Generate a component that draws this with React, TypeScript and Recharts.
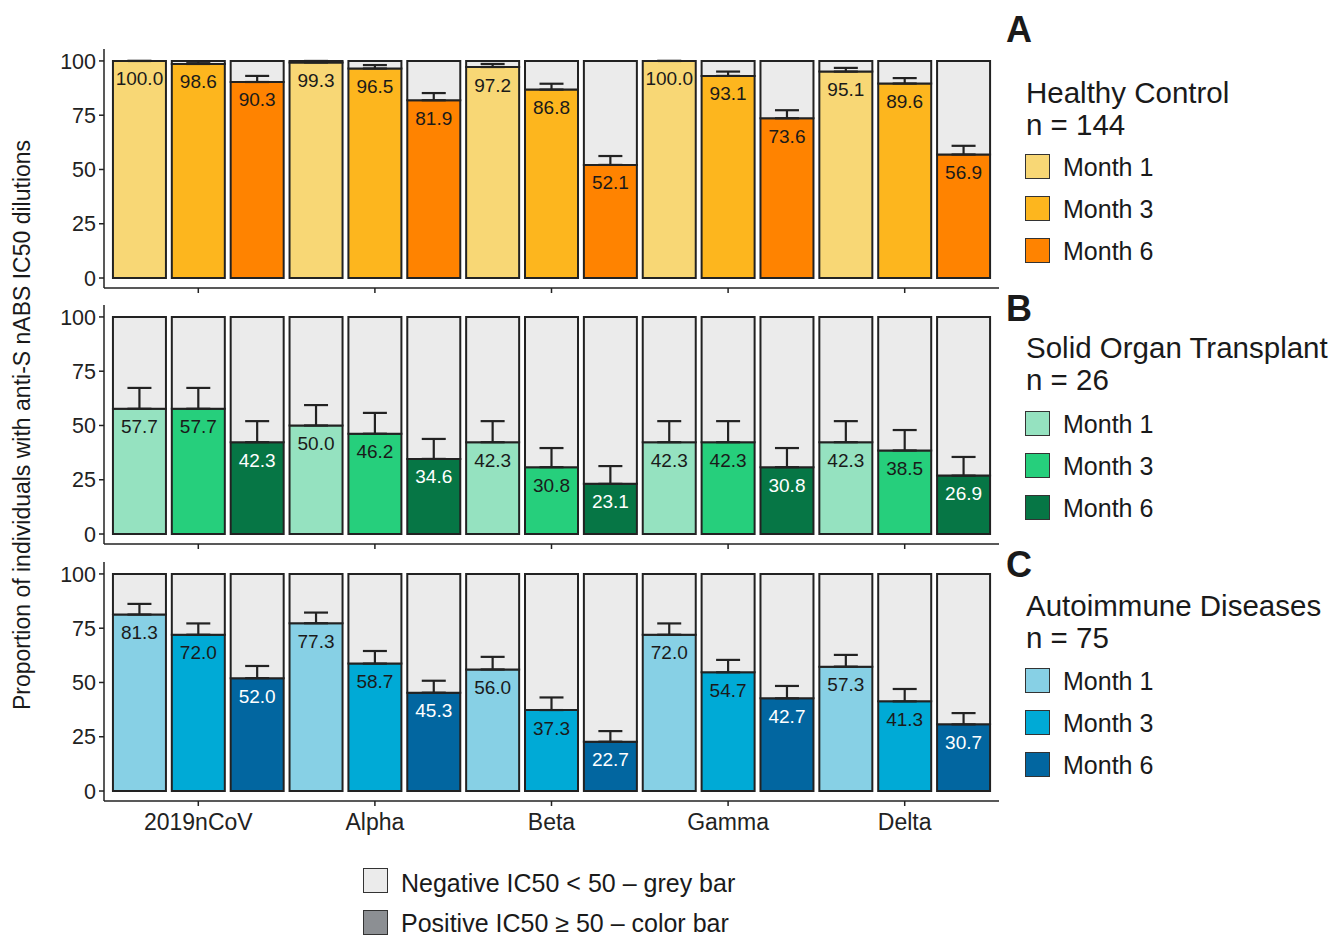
import React from "react";
import {
  Bar,
  Cell,
  ComposedChart,
  ErrorBar,
  LabelList,
  Line,
  XAxis,
  YAxis,
} from "recharts";

const VARIANTS = ["2019nCoV", "Alpha", "Beta", "Gamma", "Delta"];
const MONTHS = ["Month 1", "Month 3", "Month 6"];

// percent positive, ordered variant by variant, month 1/3/6
const HC_VALUES = [100.0, 98.6, 90.3, 99.3, 96.5, 81.9, 97.2, 86.8, 52.1, 100.0, 93.1, 73.6, 95.1, 89.6, 56.9];
const HC_ERR = [0, 1.0, 2.8, 0.7, 1.6, 3.3, 1.4, 2.7, 4.1, 0, 2.0, 3.7, 1.7, 2.5, 4.0];

const SOT_VALUES = [57.7, 57.7, 42.3, 50.0, 46.2, 34.6, 42.3, 30.8, 23.1, 42.3, 42.3, 30.8, 42.3, 38.5, 26.9];
const SOT_ERR = [9.6, 9.6, 9.7, 9.4, 9.6, 9.2, 9.7, 8.8, 8.2, 9.7, 9.7, 8.8, 9.7, 9.4, 8.6];

const AID_VALUES = [81.3, 72.0, 52.0, 77.3, 58.7, 45.3, 56.0, 37.3, 22.7, 72.0, 54.7, 42.7, 57.3, 41.3, 30.7];
const AID_ERR = [4.9, 5.2, 5.6, 4.9, 5.8, 5.5, 5.8, 5.8, 4.9, 5.2, 5.7, 5.7, 5.4, 5.7, 5.2];

const HC_COLORS = ["#F8D775", "#FDB61E", "#FF8300"];
const SOT_COLORS = ["#95E2C0", "#26CF7C", "#067645"];
const AID_COLORS = ["#87D0E5", "#00AAD6", "#0266A0"];

const HC_TEXT = ["#1a1a1a", "#1a1a1a", "#1a1a1a"];
const SOT_TEXT = ["#1a1a1a", "#1a1a1a", "#ffffff"];
const AID_TEXT = ["#1a1a1a", "#1a1a1a", "#ffffff"];

const GREY = "#EBEBEB";
const INK = "#222";
const FONT = "'Liberation Sans', Arial, sans-serif";

function buildRows(values: number[], errs: number[]) {
  return values.map((v, i) => ({
    key: `${VARIANTS[Math.floor(i / 3)]}-${i % 3}`,
    variant: VARIANTS[Math.floor(i / 3)],
    month: i % 3,
    value: v,
    rest: 100 - v,
    err: [0, errs[i]],
  }));
}

const MID_KEYS = VARIANTS.map((v) => `${v}-1`);

function Panel({
  values,
  errs,
  colors,
  textColors,
  showLabels,
}: {
  values: number[];
  errs: number[];
  colors: string[];
  textColors: string[];
  showLabels: boolean;
}) {
  const rows = buildRows(values, errs);
  const renderLabel = (p: any) => {
    const { x, y, width, value, index } = p;
    const m = rows[index].month;
    return (
      <text
        x={Number(x) + Number(width) / 2}
        y={Number(y) + 18}
        textAnchor="middle"
        dominantBaseline="central"
        fontSize={19}
        fontFamily={FONT}
        fill={textColors[m]}
      >
        {Number(value).toFixed(1)}
      </text>
    );
  };
  return (
    <ComposedChart
      width={1000}
      height={279}
      data={rows}
      margin={{ top: 0, right: 1, bottom: 0, left: 0 }}
      barCategoryGap="5%"
    >
      <XAxis
        dataKey="key"
        ticks={MID_KEYS}
        interval={0}
        padding={{ left: 6, right: 6 }}
        height={40}
        tickSize={5}
        tickMargin={8}
        axisLine={{ stroke: INK, strokeWidth: 1.5 }}
        tickLine={{ stroke: INK, strokeWidth: 1.5 }}
        tick={{ fontSize: 23, fontFamily: FONT, fill: "#222" }}
        tickFormatter={(k: string) => (showLabels ? k.split("-")[0] : "")}
      />
      <YAxis
        width={104}
        type="number"
        domain={[-4.6, 105.5]}
        allowDataOverflow
        ticks={[0, 25, 50, 75, 100]}
        tickSize={5}
        tickMargin={3}
        axisLine={{ stroke: INK, strokeWidth: 1.5 }}
        tickLine={{ stroke: INK, strokeWidth: 1.5 }}
        tick={{ fontSize: 21.5, fontFamily: FONT, fill: "#222" }}
      />
      <Bar dataKey="value" stackId="s" stroke={INK} strokeWidth={2} isAnimationActive={false}>
        {rows.map((r) => (
          <Cell key={r.key} fill={colors[r.month]} />
        ))}
        <LabelList dataKey="value" content={renderLabel} />
      </Bar>
      <Bar dataKey="rest" stackId="s" fill={GREY} stroke={INK} strokeWidth={2} isAnimationActive={false} />
      <Line
        dataKey="value"
        stroke="none"
        dot={false}
        activeDot={false}
        legendType="none"
        isAnimationActive={false}
      >
        <ErrorBar dataKey="err" width={12} stroke={INK} strokeWidth={2.2} direction="y" />
      </Line>
    </ComposedChart>
  );
}

function Swatch({ fill }: { fill: string }) {
  return (
    <div
      style={{
        width: 23,
        height: 23,
        background: fill,
        border: "1.5px solid #333",
        boxSizing: "content-box",
      }}
    />
  );
}

function TextAt({
  x,
  cy,
  size,
  bold,
  lh = 1.2,
  children,
}: {
  x: number;
  cy: number;
  size: number;
  bold?: boolean;
  lh?: number;
  children: React.ReactNode;
}) {
  const h = size * lh;
  return (
    <div
      style={{
        position: "absolute",
        left: x,
        top: cy - h / 2,
        height: h,
        lineHeight: `${h}px`,
        fontSize: size,
        fontWeight: bold ? 700 : 400,
        color: "#1a1a1a",
        whiteSpace: "nowrap",
      }}
    >
      {children}
    </div>
  );
}

function GroupLegend({
  letter,
  letterY,
  title,
  titleY,
  n,
  colors,
  rowY,
}: {
  letter: string;
  letterY: number;
  title: string;
  titleY: number;
  n: string;
  colors: string[];
  rowY: number;
}) {
  return (
    <>
      <TextAt x={1006} cy={letterY} size={36} bold>
        {letter}
      </TextAt>
      <TextAt x={1026} cy={titleY} size={29.5}>
        {title}
      </TextAt>
      <TextAt x={1026} cy={titleY + 32} size={29.5}>
        {n}
      </TextAt>
      {MONTHS.map((m, i) => (
        <React.Fragment key={m}>
          <div style={{ position: "absolute", left: 1025, top: rowY + i * 42 - 13 }}>
            <Swatch fill={colors[i]} />
          </div>
          <TextAt x={1063} cy={rowY + i * 42} size={25}>
            {m}
          </TextAt>
        </React.Fragment>
      ))}
    </>
  );
}

export default function App() {
  return (
    <div
      style={{
        position: "relative",
        width: 1333,
        height: 937,
        overflow: "hidden",
        background: "#fff",
        fontFamily: FONT,
      }}
    >
      <style>{`body{margin:0}`}</style>
      <div style={{ position: "absolute", left: 0, top: 49 }}>
        <Panel values={HC_VALUES} errs={HC_ERR} colors={HC_COLORS} textColors={HC_TEXT} showLabels={false} />
      </div>
      <div style={{ position: "absolute", left: 0, top: 305 }}>
        <Panel values={SOT_VALUES} errs={SOT_ERR} colors={SOT_COLORS} textColors={SOT_TEXT} showLabels={false} />
      </div>
      <div style={{ position: "absolute", left: 0, top: 562 }}>
        <Panel values={AID_VALUES} errs={AID_ERR} colors={AID_COLORS} textColors={AID_TEXT} showLabels />
      </div>

      <div
        style={{
          position: "absolute",
          left: 22,
          top: 425,
          transform: "translate(-50%, -50%) rotate(-90deg)",
          fontSize: 23,
          color: "#1a1a1a",
          whiteSpace: "nowrap",
        }}
      >
        Proportion of individuals with anti-S nABS IC50 dilutions
      </div>

      <GroupLegend letter="A" letterY={30} title="Healthy Control" titleY={93} n="n = 144" colors={HC_COLORS} rowY={167} />
      <GroupLegend letter="B" letterY={309} title="Solid Organ Transplant" titleY={348} n="n = 26" colors={SOT_COLORS} rowY={424} />
      <GroupLegend letter="C" letterY={565} title="Autoimmune Diseases" titleY={606} n="n = 75" colors={AID_COLORS} rowY={681} />

      <div style={{ position: "absolute", left: 363, top: 868 }}>
        <Swatch fill={GREY} />
      </div>
      <TextAt x={401} cy={883} size={25} lh={1}>
        Negative IC50 &lt; 50 – grey bar
      </TextAt>
      <div style={{ position: "absolute", left: 363, top: 910 }}>
        <Swatch fill="#8C8F93" />
      </div>
      <TextAt x={401} cy={923.5} size={25} lh={1}>
        Positive IC50 ≥ 50 – color bar
      </TextAt>
    </div>
  );
}
